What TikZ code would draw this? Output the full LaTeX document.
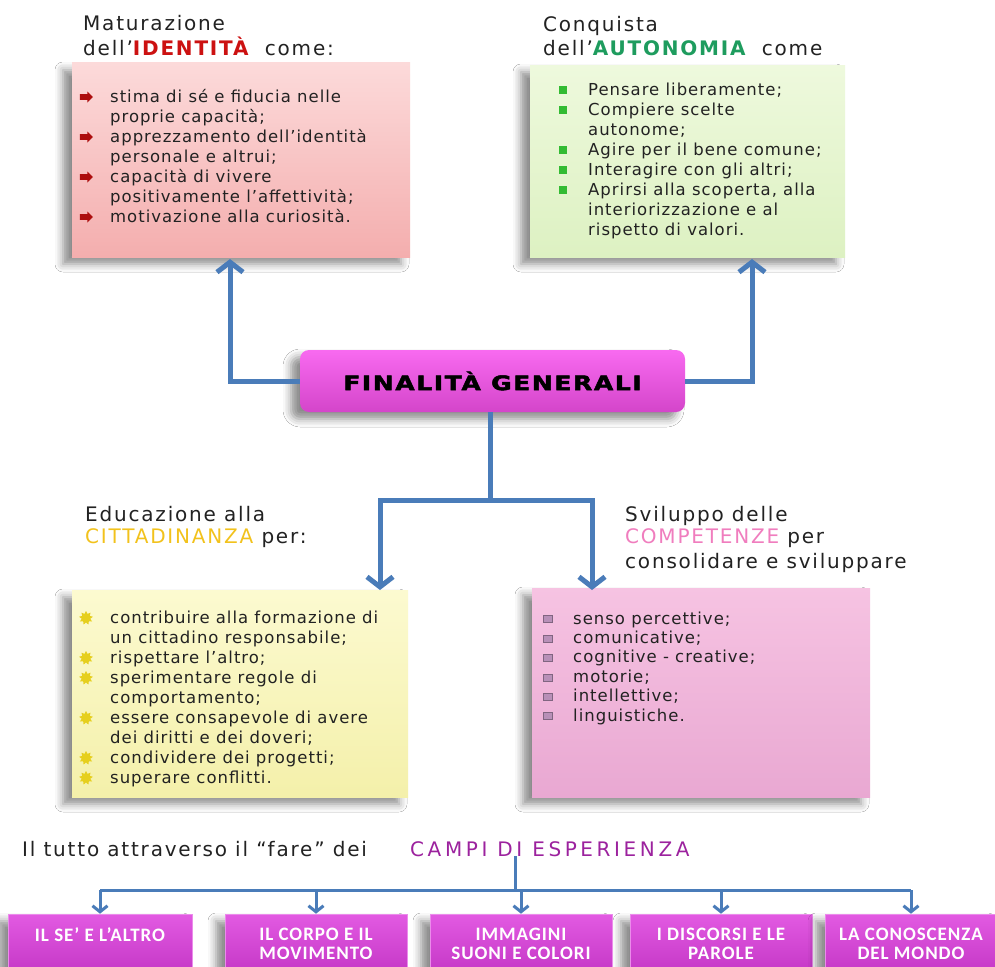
\documentclass[tikz,border=0pt]{standalone}
\usepackage{fontspec}
\setmainfont{DejaVu Sans}
\newfontfamily\titlef{DejaVu Sans}[LetterSpace=9]
\newfontfamily\bodyf{DejaVu Sans}[LetterSpace=6]
\newfontfamily\finf{DejaVu Sans}[LetterSpace=8,FakeStretch=1.25,FakeBold=2.5]
\newfontfamily\campf{Carlito}[LetterSpace=5]
\usetikzlibrary{arrows.meta,shadows.blur,shapes.geometric,shapes.arrows}
\definecolor{arrowblue}{HTML}{4A7CB9}
\definecolor{idred}{HTML}{CC1111}
\definecolor{augreen}{HTML}{1E9C5E}
\definecolor{citgold}{HTML}{F2C21C}
\definecolor{compink}{HTML}{F07DBE}
\definecolor{campurple}{HTML}{9C229E}
\definecolor{redtop}{HTML}{FCDADA}
\definecolor{redbot}{HTML}{F4AEAE}
\definecolor{greentop}{HTML}{EEF9DD}
\definecolor{greenbot}{HTML}{DDF1C2}
\definecolor{yeltop}{HTML}{FCFAD0}
\definecolor{yelbot}{HTML}{F4F0AA}
\definecolor{pinktop}{HTML}{F6C3E2}
\definecolor{pinkbot}{HTML}{E9A8D2}
\definecolor{fintop}{HTML}{F86AF0}
\definecolor{finbot}{HTML}{D445CA}
\definecolor{camtop}{HTML}{E25AE2}
\definecolor{cambot}{HTML}{C437C6}
\definecolor{txt}{HTML}{222222}
\definecolor{HTMLgrn}{HTML}{33BB33}
\definecolor{HTMLyel}{HTML}{E6CF1E}
\definecolor{HTMLpnk}{HTML}{B890B8}
\begin{document}
\begin{tikzpicture}[x=1pt,y=-1pt,
  panel/.style={draw=none, inner sep=0, rectangle,
    blur shadow={shadow xshift=-9pt, shadow yshift=-7pt, shadow blur radius=8pt, shadow opacity=45}},
  body/.style={anchor=base west, inner sep=0, text=txt, font=\bodyf\fontsize{16.5}{20}\selectfont},
  ttl/.style={anchor=base west, inner sep=0, text=txt, font=\titlef\fontsize{20}{22}\selectfont},
  bigarrow/.style={draw=arrowblue, line width=5pt, -{Straight Barb[length=10pt,width=26pt]}},
  bigline/.style={draw=arrowblue, line width=5pt},
  thinarrow/.style={draw=arrowblue, line width=3pt, -{Straight Barb[length=6pt,width=15pt]}},
  thinline/.style={draw=arrowblue, line width=3pt},
  campo/.style={panel, top color=camtop, bottom color=cambot, draw=camtop!70!white, line width=0.6pt,
    minimum height=60pt, align=center, text=white, font=\campf\bfseries\fontsize{19}{19}\selectfont},
  redbul/.style={single arrow, fill=idred!85!black, draw=none, minimum height=13pt, minimum width=11pt,
    single arrow head extend=2.5pt, inner xsep=0pt, inner ysep=2.5pt},
  grnbul/.style={rectangle, fill=HTMLgrn, draw=none, minimum size=8pt, inner sep=0},
  yelbul/.style={star, star points=9, star point ratio=1.6, fill=HTMLyel, draw=none, minimum size=14pt, inner sep=0},
  pnkbul/.style={rectangle, fill=HTMLpnk, draw=HTMLpnk!70!black, line width=0.4pt, minimum width=9pt, minimum height=7pt, inner sep=0}
]
\useasboundingbox (0,0) rectangle (995,966);
\clip (0,0) rectangle (995,966);
\fill[white] (0,0) rectangle (995,966);

% ---------- panels ----------
\node[panel, top color=redtop, bottom color=redbot, minimum width=338pt, minimum height=194pt] (idbox) at (241,160) {};
\node[panel, top color=greentop, bottom color=greenbot, minimum width=315pt, minimum height=192pt] (aubox) at (687.5,161) {};
\node[panel, top color=yeltop, bottom color=yelbot, minimum width=336pt, minimum height=207pt] (cibox) at (240,693.5) {};
\node[panel, top color=pinktop, bottom color=pinkbot, minimum width=338pt, minimum height=209pt] (cobox) at (701,692.5) {};

% ---------- central box ----------
\node[panel, rounded corners=9pt, top color=fintop, bottom color=finbot, minimum width=385pt, minimum height=62pt,
  font=\finf\bfseries\fontsize{20}{22}\selectfont, text=black] (fin) at (492.5,381) {FINALITÀ GENERALI};

% ---------- titles ----------
\node[ttl] (idt1) at (83,31) {Maturazione};
\node[ttl] (idt2) at (83,56) {dell’\textcolor{idred}{\bfseries IDENTITÀ}\ \ come:};
\node[ttl] (aut1) at (543,32) {Conquista};
\node[ttl] (aut2) at (543,56) {dell’\textcolor{augreen}{\bfseries AUTONOMIA}\ \ come};
\node[ttl] (cit1) at (85,521) {Educazione alla};
\node[ttl] (cit2) at (85,543) {\textcolor{citgold}{CITTADINANZA} per:};
\node[ttl] (com1) at (625,521) {Sviluppo delle};
\node[ttl] (com2) at (625,543) {\textcolor{compink}{COMPETENZE} per};
\node[ttl] (com3) at (625,568) {consolidare e sviluppare};
\node[ttl] (tutto) at (22,856) {Il tutto attraverso il “fare” dei};
\node[ttl, text=campurple, font=\titlef\fontsize{20}{22}\selectfont\addfontfeature{LetterSpace=18}] (campi) at (410,856) {CAMPI DI ESPERIENZA};

% ---------- item texts ----------
\foreach \t [count=\i] in {stima di sé e fiducia nelle, proprie capacità;, apprezzamento dell’identità,
  personale e altrui;, capacità di vivere, positivamente l’affettività;, motivazione alla curiosità.}
  \node[body] (idl\i) at (110,102+20*\i-20) {\t};
\foreach \i in {1,3,5,7}
  \node[redbul] (idb\i) at (85,97+20*\i-20) {};

\foreach \t [count=\i] in {Pensare liberamente;, Compiere scelte, autonome;, Agire per il bene comune;,
  Interagire con gli altri;, {Aprirsi alla scoperta, alla}, interiorizzazione e al, rispetto di valori.}
  \node[body] (aul\i) at (588,95+20*\i-20) {\t};
\foreach \i in {1,2,4,5,6}
  \node[grnbul] (aub\i) at (563,90+20*\i-20) {};

\foreach \t [count=\i] in {contribuire alla formazione di, un cittadino responsabile;, rispettare l’altro;,
  sperimentare regole di, comportamento;, essere consapevole di avere, dei diritti e dei doveri;,
  condividere dei progetti;, superare conflitti.}
  \node[body] (cil\i) at (110,623+20*\i-20) {\t};
\foreach \i in {1,3,4,6,8,9}
  \node[yelbul] (cib\i) at (86,618+20*\i-20) {};

\foreach \t [count=\i] in {senso percettive;, comunicative;, cognitive - creative;, motorie;, intellettive;, linguistiche.}
  \node[body] (col\i) at (573,624+19.4*\i-19.4) {\t};
\foreach \i in {1,...,6}
  \node[pnkbul] (cob\i) at (548,619+19.4*\i-19.4) {};

% ---------- connectors ----------
\coordinate (ida) at (230,259);
\coordinate (aua) at (752,259);
\draw[bigarrow] (fin.west) -| (ida);
\draw[bigarrow] (fin.east) -| (aua);
\coordinate (fj) at (490,500);
\coordinate (cia) at (380,590);
\coordinate (coa) at (592,590);
\draw[bigline] (fin.south -| fj) -- (fj);
\draw[bigarrow] (fj) -| (cia);
\draw[bigarrow] (fj) -| (coa);

% ---------- campi ----------
\node[campo, minimum width=184pt] (b1) at (100,944) {IL SE’ E L’ALTRO\\\mbox{}};
\node[campo, minimum width=182pt] (b2) at (316,944) {IL CORPO E IL\\MOVIMENTO};
\node[campo, minimum width=182pt] (b3) at (521,944) {IMMAGINI\\SUONI E COLORI};
\node[campo, minimum width=182pt] (b4) at (721,944) {I DISCORSI E LE\\PAROLE};
\node[campo, minimum width=172pt] (b5) at (911,944) {LA CONOSCENZA\\DEL MONDO};

\coordinate (cj) at (515,890);
\draw[thinline] (campi.south -| cj) -- (cj);
\draw[thinline] (b1.north |- cj) -- (b5.north |- cj);
\foreach \b in {b1,b2,b3,b4,b5}
  \draw[thinarrow] (\b.north |- cj) -- (\b.north);
\end{tikzpicture}
\end{document}
